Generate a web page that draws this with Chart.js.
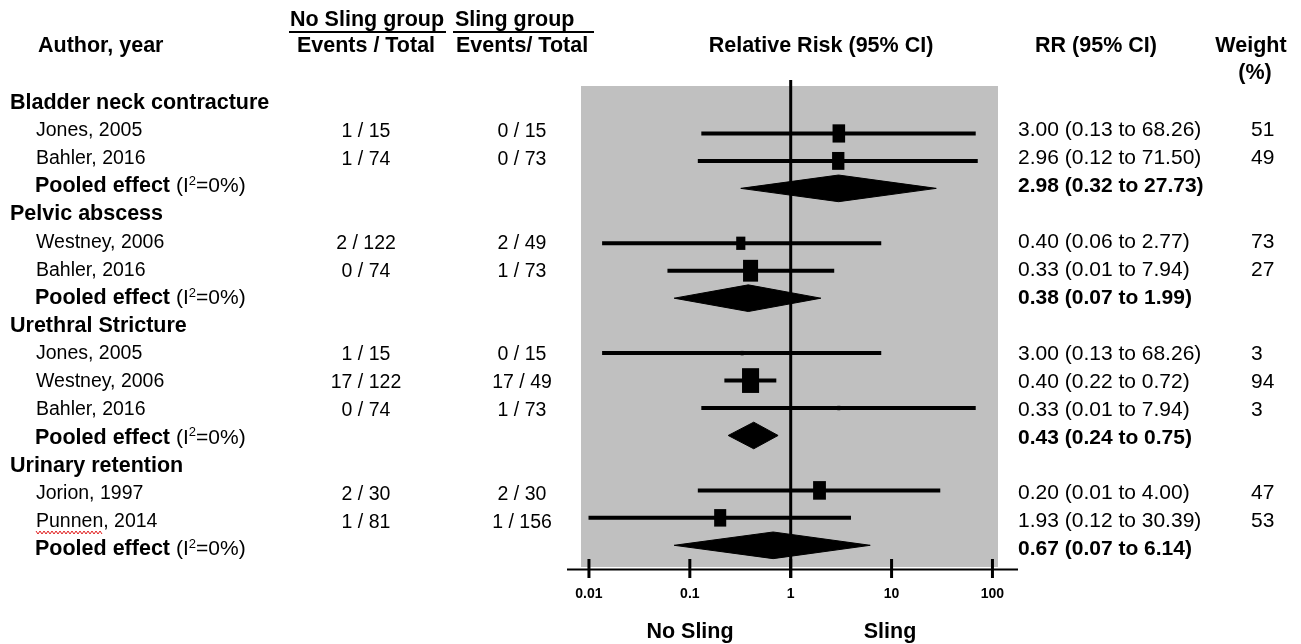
<!DOCTYPE html>
<html>
<head>
<meta charset="utf-8">
<script src="https://cdn.jsdelivr.net/npm/chart.js@4.4.1/dist/chart.umd.min.js"></script>
<style>
  body { margin: 0; background: #fff; }
  #wrap { position: relative; width: 1301px; height: 644px; }
</style>
</head>
<body>
<div id="wrap"><canvas id="forest"></canvas></div>
<script>
// one entry per text line, top to bottom
const rowKind = ['group', 'study', 'study', 'pooled',
                 'group', 'study', 'study', 'pooled',
                 'group', 'study', 'study', 'study', 'pooled',
                 'group', 'study', 'study', 'pooled'];
const rowLabels = ['Bladder neck contracture', 'Jones, 2005', 'Bahler, 2016', 'Pooled effect',
                   'Pelvic abscess', 'Westney, 2006', 'Bahler, 2016', 'Pooled effect',
                   'Urethral Stricture', 'Jones, 2005', 'Westney, 2006', 'Bahler, 2016', 'Pooled effect',
                   'Urinary retention', 'Jorion, 1997', 'Punnen, 2014', 'Pooled effect'];
const noSlingEvents = ['', '1 / 15', '1 / 74', '', '', '2 / 122', '0 / 74', '',
                       '', '1 / 15', '17 / 122', '0 / 74', '', '', '2 / 30', '1 / 81', ''];
const slingEvents = ['', '0 / 15', '0 / 73', '', '', '2 / 49', '1 / 73', '',
                     '', '0 / 15', '17 / 49', '1 / 73', '', '', '2 / 30', '1 / 156', ''];
const rrText = ['', '3.00 (0.13 to 68.26)', '2.96 (0.12 to 71.50)', '2.98 (0.32 to 27.73)',
                '', '0.40 (0.06 to 2.77)', '0.33 (0.01 to 7.94)', '0.38 (0.07 to 1.99)',
                '', '3.00 (0.13 to 68.26)', '0.40 (0.22 to 0.72)', '0.33 (0.01 to 7.94)', '0.43 (0.24 to 0.75)',
                '', '0.20 (0.01 to 4.00)', '1.93 (0.12 to 30.39)', '0.67 (0.07 to 6.14)'];
const weightText = ['', '51', '49', '', '', '73', '27', '', '', '3', '94', '3', '', '', '47', '53', ''];

// marks as they are drawn in the plot
const plotEst = [null, 3.00, 2.96, 2.98, null, 0.32, 0.40, 0.38, null, 0.33, 0.40, 3.00, 0.43, null, 1.93, 0.20, 0.67];
const plotLo  = [null, 0.13, 0.12, 0.32, null, 0.0135, 0.06, 0.07, null, 0.0135, 0.22, 0.13, 0.24, null, 0.12, 0.0099, 0.07];
const plotHi  = [null, 68.26, 71.5, 27.73, null, 7.9, 2.7, 1.99, null, 7.9, 0.72, 68.26, 0.75, null, 30.39, 3.96, 6.14];
const plotWt  = [null, 51, 49, null, null, 27, 73, null, null, 3, 94, 3, null, null, 53, 47, null];

const xTicks = [0.01, 0.1, 1, 10, 100];
const xTickLabels = ['0.01', '0.1', '1', '10', '100'];

const FONT = "'Liberation Sans', Arial, sans-serif";
const DIAMOND_HALF = 0.485;

// text lines sit on their own grid, a little tighter at the top than the marks
const textY = i => 102.7 + 27.92 * i;

const datasets = [];
rowKind.forEach((kind, i) => {
  if (kind === 'study') {
    datasets.push({
      data: [{x: plotLo[i], y: i}, {x: plotHi[i], y: i}],
      borderColor: '#000', borderWidth: 4, pointRadius: 0, fill: false
    });
  } else if (kind === 'pooled') {
    datasets.push({
      data: [{x: plotLo[i], y: i}, {x: plotEst[i], y: i - DIAMOND_HALF},
             {x: plotHi[i], y: i}, {x: plotEst[i], y: i + DIAMOND_HALF},
             {x: plotLo[i], y: i}],
      borderColor: '#000', backgroundColor: '#000', borderWidth: 1,
      pointRadius: 0, fill: 'shape'
    });
  }
});

function text(ctx, s, x, y, font, align) {
  ctx.font = font;
  ctx.textAlign = align || 'left';
  ctx.textBaseline = 'middle';
  ctx.fillText(s, x, y);
}

const forestPlugin = {
  id: 'forest',
  beforeDraw(chart) {
    const {ctx, chartArea: a} = chart;
    ctx.save();
    ctx.fillStyle = '#c0c0c0';
    ctx.fillRect(a.left, a.top, a.right - a.left, a.bottom - a.top);
    ctx.restore();
  },
  afterDatasetsDraw(chart) {
    const ctx = chart.ctx;
    const xs = chart.scales.x, ys = chart.scales.y;
    ctx.save();
    ctx.fillStyle = '#000';
    // boxes sized by weight
    rowKind.forEach((kind, i) => {
      if (kind !== 'study' || plotWt[i] == null) return;
      const w = 1.76 * Math.sqrt(plotWt[i]);
      const h = 1.45 * w;
      const cx = xs.getPixelForValue(plotEst[i]);
      const cy = ys.getPixelForValue(i);
      ctx.fillRect(cx - w / 2, cy - h / 2, w, h);
    });
    // line of no effect
    const x1 = xs.getPixelForValue(1);
    ctx.strokeStyle = '#000';
    ctx.lineWidth = 3;
    ctx.beginPath();
    ctx.moveTo(x1, 80);
    ctx.lineTo(x1, 578);
    ctx.stroke();
    // x axis
    ctx.lineWidth = 2;
    ctx.beginPath();
    ctx.moveTo(567, 569.5);
    ctx.lineTo(1018, 569.5);
    ctx.stroke();
    ctx.lineWidth = 3;
    xTicks.forEach((v, k) => {
      const px = xs.getPixelForValue(v);
      ctx.beginPath();
      ctx.moveTo(px, 559);
      ctx.lineTo(px, 578);
      ctx.stroke();
      text(ctx, xTickLabels[k], px, 594, 'bold 14px ' + FONT, 'center');
    });
    ctx.restore();
  },
  afterDraw(chart) {
    const ctx = chart.ctx;
    ctx.save();
    ctx.fillStyle = '#000';
    const B = 'bold 21.5px ' + FONT;

    // column headers
    text(ctx, 'Author, year', 38, 46, B);
    text(ctx, 'No Sling group', 367, 20, B, 'center');
    text(ctx, 'Sling group', 455, 20, B);
    text(ctx, 'Events / Total', 366, 46, B, 'center');
    text(ctx, 'Events/ Total', 522, 46, B, 'center');
    text(ctx, 'Relative Risk (95% CI)', 821, 46, B, 'center');
    text(ctx, 'RR (95% CI)', 1096, 46, B, 'center');
    text(ctx, 'Weight', 1251, 46, B, 'center');
    text(ctx, '(%)', 1255, 73, B, 'center');
    ctx.strokeStyle = '#000';
    ctx.lineWidth = 2;
    ctx.beginPath();
    ctx.moveTo(289, 32); ctx.lineTo(446, 32);
    ctx.moveTo(453, 32); ctx.lineTo(594, 32);
    ctx.stroke();

    rowKind.forEach((kind, i) => {
      const y = textY(i);
      if (kind === 'group') {
        text(ctx, rowLabels[i], 10, y, B);
        return;
      }
      if (kind === 'pooled') {
        text(ctx, rowLabels[i], 35, y, B);
        ctx.font = B;
        let x = 35 + ctx.measureText(rowLabels[i] + ' ').width;
        text(ctx, '(I', x, y, '21px ' + FONT);
        x += ctx.measureText('(I').width;
        text(ctx, '2', x, y - 5, '13px ' + FONT);
        x += ctx.measureText('2').width;
        text(ctx, '=0%)', x, y, '21px ' + FONT);
        text(ctx, rrText[i], 1018, y, 'bold 21px ' + FONT);
        return;
      }
      text(ctx, rowLabels[i], 36, y, '19.5px ' + FONT);
      text(ctx, noSlingEvents[i], 366, y + 1, '19.5px ' + FONT, 'center');
      text(ctx, slingEvents[i], 522, y + 1, '19.5px ' + FONT, 'center');
      text(ctx, rrText[i], 1018, y, '21px ' + FONT);
      text(ctx, weightText[i], 1251, y, '21px ' + FONT);
      if (rowLabels[i].startsWith('Punnen')) {
        // spell-check squiggle under the name
        ctx.font = '19.5px ' + FONT;
        const wName = ctx.measureText('Punnen').width;
        ctx.strokeStyle = '#e02020';
        ctx.lineWidth = 1;
        ctx.beginPath();
        for (let sx = 0; sx <= wName; sx += 2) {
          const sy = y + 11 + ((sx / 2) % 2 ? 1.5 : -1.5);
          if (sx === 0) ctx.moveTo(36 + sx, sy); else ctx.lineTo(36 + sx, sy);
        }
        ctx.stroke();
      }
    });

    text(ctx, 'No Sling', 690, 632, B, 'center');
    text(ctx, 'Sling', 890, 632, B, 'center');
    ctx.restore();
  }
};

new Chart(document.getElementById('forest'), {
  type: 'line',
  data: { datasets: datasets },
  options: {
    responsive: true,
    maintainAspectRatio: false,
    animation: false,
    layout: { padding: { left: 581, right: 303, top: 86, bottom: 77 } },
    elements: { line: { tension: 0, borderCapStyle: 'butt' } },
    scales: {
      x: { type: 'logarithmic', min: 0.00834, max: 113.5, display: false },
      y: { type: 'linear', min: -0.728, max: 16.79, reverse: true, display: false }
    },
    plugins: {
      legend: { display: false },
      tooltip: { enabled: false }
    }
  },
  plugins: [forestPlugin]
});
</script>
</body>
</html>
